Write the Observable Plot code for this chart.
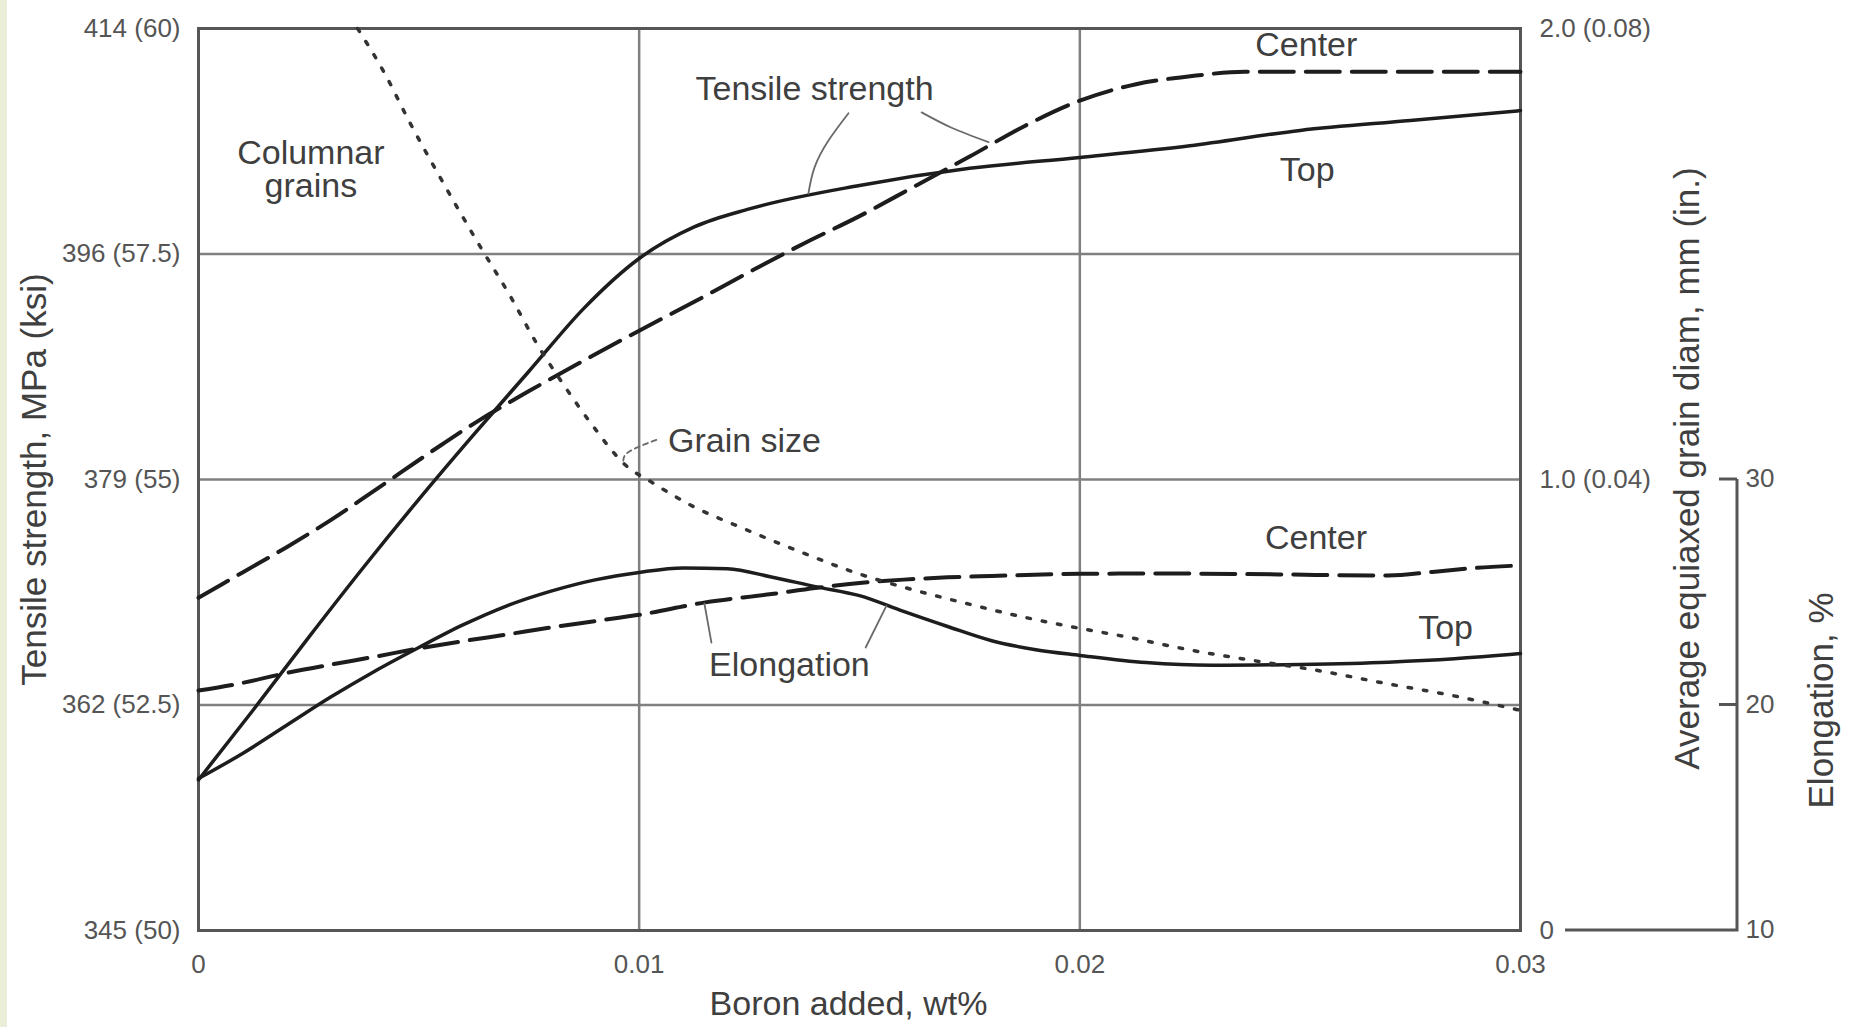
<!DOCTYPE html>
<html>
<head>
<meta charset="utf-8">
<script src="https://cdn.jsdelivr.net/npm/d3@7"></script>
<script src="https://cdn.jsdelivr.net/npm/@observablehq/plot@0.6"></script>
<style>
  html, body { margin: 0; padding: 0; background: #fff; }
  #chart { position: relative; width: 1849px; height: 1027px; overflow: hidden; }
  #chart svg { position: absolute; left: 0; top: 0; }
  #strip { position: absolute; left: 0; top: 0; width: 7px; height: 1027px; background: #eaeed8; z-index: 2; }
</style>
</head>
<body>
<div id="chart"><div id="strip"></div></div>
<script>
// Boron additions (wt%) and the measured responses of the casting.

// Tensile strength, top of ingot (ksi)
const tsTopBoron = [0, 0.00125, 0.0025, 0.00375, 0.005, 0.00625, 0.0075, 0.00875, 0.01, 0.01125, 0.0125, 0.015, 0.0175, 0.02, 0.0225, 0.025, 0.0275, 0.03];
const tsTopKsi   = [51.67, 52.45, 53.25, 54.03, 54.78, 55.50, 56.20, 56.90, 57.45, 57.80, 58.00, 58.26, 58.45, 58.57, 58.70, 58.87, 58.98, 59.09];

// Tensile strength, center of ingot (ksi)
const tsCenterBoron = [0, 0.001, 0.002, 0.003, 0.004, 0.0055, 0.00625, 0.0075, 0.00875, 0.01, 0.01125, 0.0125, 0.01375, 0.015, 0.01625, 0.0175, 0.01875, 0.02, 0.02125, 0.0225, 0.02375, 0.025, 0.03];
const tsCenterKsi   = [53.69, 53.97, 54.25, 54.55, 54.88, 55.38, 55.62, 55.98, 56.32, 56.65, 56.97, 57.30, 57.62, 57.92, 58.25, 58.58, 58.92, 59.20, 59.38, 59.47, 59.52, 59.52, 59.52];

// Elongation, top of ingot (%)
const elTopBoron = [0, 0.001, 0.002, 0.003, 0.004, 0.005, 0.006, 0.007, 0.008, 0.009, 0.01, 0.011, 0.012, 0.013, 0.014, 0.015, 0.016, 0.017, 0.018, 0.019, 0.02, 0.0215, 0.023, 0.025, 0.027, 0.0285, 0.03];
const elTopPct   = [16.74, 17.85, 19.1, 20.35, 21.5, 22.55, 23.55, 24.4, 25.05, 25.55, 25.88, 26.08, 26.04, 25.68, 25.25, 24.85, 24.15, 23.48, 22.85, 22.45, 22.2, 21.88, 21.76, 21.8, 21.9, 22.05, 22.28];

// Elongation, center of ingot (%)
const elCenterBoron = [0, 0.001, 0.002, 0.003, 0.004, 0.005, 0.006, 0.007, 0.008, 0.009, 0.01, 0.0115, 0.013, 0.014, 0.015, 0.016, 0.017, 0.018, 0.02, 0.022, 0.0245, 0.027, 0.028, 0.029, 0.03];
const elCenterPct   = [20.64, 20.98, 21.42, 21.79, 22.14, 22.51, 22.83, 23.13, 23.44, 23.72, 24.0, 24.55, 24.92, 25.19, 25.41, 25.56, 25.66, 25.72, 25.82, 25.83, 25.79, 25.74, 25.9, 26.08, 26.19];

// Average equiaxed grain diameter (mm)
const grainBoron = [0.00361, 0.00425, 0.00475, 0.0055, 0.00634, 0.00709, 0.00766, 0.0083, 0.00891, 0.0097, 0.0103, 0.01123, 0.0123, 0.01375, 0.01489, 0.01627, 0.01743, 0.01886, 0.02, 0.02111, 0.02255, 0.02391, 0.02543, 0.02693, 0.02845, 0.03];
const grainMm    = [2.0, 1.896, 1.80, 1.667, 1.525, 1.404, 1.304, 1.208, 1.124, 1.031, 0.993, 0.94, 0.894, 0.836, 0.794, 0.754, 0.725, 0.692, 0.67, 0.65, 0.621, 0.599, 0.576, 0.548, 0.521, 0.488];

// Axis ticks and their labels
const xTicks = [0, 0.01, 0.02, 0.03];
const xTickLabels = ["0", "0.01", "0.02", "0.03"];
const ksiTicks = [50, 52.5, 55, 57.5, 60];
const mpaLabels = ["345 (50)", "362 (52.5)", "379 (55)", "396 (57.5)", "414 (60)"];
const grainTicks = [0, 1.0, 2.0];
const grainLabels = ["0", "1.0 (0.04)", "2.0 (0.08)"];
const elongTicks = [10, 20, 30];
const elongLabels = ["10", "20", "30"];

// Curve annotations
const noteText  = ["Columnar\ngrains", "Tensile strength", "Center", "Top", "Grain size", "Center", "Top", "Elongation"];
const noteBoron = [0.00255, 0.01398, 0.02514, 0.02516, 0.01239, 0.02536, 0.0283, 0.01341];
const noteKsi   = [58.43, 59.33, 59.81, 58.43, 55.42, 54.35, 53.35, 52.94];

// Leader lines from the labels to their curves
const leaderTsSolidBoron = [0.01475, 0.0143, 0.01398, 0.01384];
const leaderTsSolidKsi   = [59.06, 58.76, 58.46, 58.17];
const leaderTsDashBoron  = [0.01641, 0.01709, 0.01793];
const leaderTsDashKsi    = [59.07, 58.90, 58.74];
const leaderGrainBoron   = [0.01039, 0.00993, 0.00968, 0.00964];
const leaderGrainKsi     = [55.44, 55.35, 55.27, 55.19];
const leaderElDashBoron  = [0.01164, 0.01148];
const leaderElDashPct    = [22.77, 24.5];
const leaderElSolidBoron = [0.01514, 0.01561];
const leaderElSolidPct   = [22.55, 24.4];

// The secondary axes share the strength scale: 0–2 mm spans 50–60 ksi, 10–30 % spans 50–55 ksi.
const grainToKsi = d => 50 + d * 5;
const elongToKsi = e => 50 + (e - 10) / 4;

const zip = (xs, ys, f = v => v) => xs.map((b, i) => ({b, v: f(ys[i])}));

const ink = "#1d1d1d";
const textInk = "#3f3f3f";
const sans = "'Liberation Sans', Arial, Helvetica, sans-serif";

const lineOpts = {x: "b", y: "v", curve: "monotone-x", stroke: ink, strokeWidth: 3.5};
const dashOpts = {...lineOpts, strokeWidth: 4, strokeDasharray: "34,12"};
const leaderOpts = {x: "b", y: "v", curve: "natural", stroke: "#6a6a6a", strokeWidth: 1.8};
const titleOpts = {fontSize: 35, fill: textInk, textAnchor: "middle", lineAnchor: "middle"};

const plot = Plot.plot({
  width: 1849,
  height: 1027,
  marginLeft: 198,
  marginRight: 329,
  marginTop: 28,
  marginBottom: 97,
  style: {fontFamily: sans, fontSize: "26px", color: "#555", background: "transparent", overflow: "visible"},
  x: {domain: [0, 0.03]},
  y: {domain: [50, 60]},
  marks: [
    // grid
    Plot.ruleX([0.01, 0.02], {stroke: "#808080", strokeWidth: 2.5}),
    Plot.ruleY([52.5, 55, 57.5], {stroke: "#808080", strokeWidth: 2.5}),
    Plot.frame({stroke: "#565656", strokeWidth: 3}),

    // axes
    Plot.axisX(xTicks, {tickSize: 0, tickPadding: 24, label: null, tickFormat: d => xTickLabels[xTicks.indexOf(d)]}),
    Plot.axisY(ksiTicks, {anchor: "left", tickSize: 0, tickPadding: 18, label: null, tickFormat: d => mpaLabels[ksiTicks.indexOf(d)]}),
    Plot.axisY(grainTicks.map(grainToKsi), {anchor: "right", tickSize: 0, tickPadding: 19, label: null,
      tickFormat: d => grainLabels[grainTicks.map(grainToKsi).indexOf(d)]}),

    // tensile strength
    Plot.line(zip(tsTopBoron, tsTopKsi), lineOpts),
    Plot.line(zip(tsCenterBoron, tsCenterKsi), dashOpts),

    // elongation
    Plot.line(zip(elTopBoron, elTopPct, elongToKsi), lineOpts),
    Plot.line(zip(elCenterBoron, elCenterPct, elongToKsi), dashOpts),

    // grain size
    Plot.line(zip(grainBoron, grainMm, grainToKsi), {...lineOpts, stroke: "#333", strokeWidth: 3.5, strokeDasharray: "3.5,12"}),

    // leaders
    Plot.line(zip(leaderTsSolidBoron, leaderTsSolidKsi), leaderOpts),
    Plot.line(zip(leaderTsDashBoron, leaderTsDashKsi), leaderOpts),
    Plot.line(zip(leaderGrainBoron, leaderGrainKsi), {...leaderOpts, strokeDasharray: "5,4"}),
    Plot.line(zip(leaderElDashBoron, leaderElDashPct, elongToKsi), leaderOpts),
    Plot.line(zip(leaderElSolidBoron, leaderElSolidPct, elongToKsi), leaderOpts),

    // annotations
    Plot.text(noteText.map((t, i) => ({t, b: noteBoron[i], v: noteKsi[i]})),
      {x: "b", y: "v", text: "t", fontSize: 34, fill: textInk, lineHeight: 0.98}),

    // axis titles
    Plot.text(["Boron added, wt%"], {...titleOpts, frameAnchor: "bottom", dx: -11, dy: 74, fontSize: 34}),
    Plot.text(["Tensile strength, MPa (ksi)"], {...titleOpts, frameAnchor: "left", rotate: -90, dx: -164}),
    Plot.text(["Average equiaxed grain diam, mm (in.)"], {...titleOpts, frameAnchor: "right", rotate: -90, dx: 167, dy: -11}),
    Plot.text(["Elongation, %"], {...titleOpts, frameAnchor: "right", rotate: -90, dx: 301, dy: 221})
  ]
});

document.getElementById("chart").appendChild(plot);

// Elongation axis, drawn to the right of the grain-size axis on the shared strength scale
const xS = plot.scale("x");
const yS = plot.scale("y");
const xEdge = xS.apply(0.03);
const axisPos = xEdge + 217;
const yAt = e => yS.apply(elongToKsi(e));
const g = d3.select(plot).append("g").attr("class", "elongation-axis");
g.append("path")
  .attr("d", `M${xEdge + 45},${yAt(10)}H${axisPos}V${yAt(30)}`)
  .attr("fill", "none").attr("stroke", "#565656").attr("stroke-width", 3);
g.selectAll("path.tick").data(elongTicks.filter(e => e > 10)).join("path")
  .attr("class", "tick")
  .attr("d", e => `M${axisPos - 18},${yAt(e)}H${axisPos}`)
  .attr("stroke", "#565656").attr("stroke-width", 3);
g.selectAll("text").data(elongTicks).join("text")
  .attr("x", axisPos + 23)
  .attr("y", e => yAt(e))
  .attr("dy", "0.32em")
  .attr("fill", "#555")
  .attr("font-size", 26)
  .attr("font-family", sans)
  .text((e, i) => elongLabels[i]);
</script>
</body>
</html>
